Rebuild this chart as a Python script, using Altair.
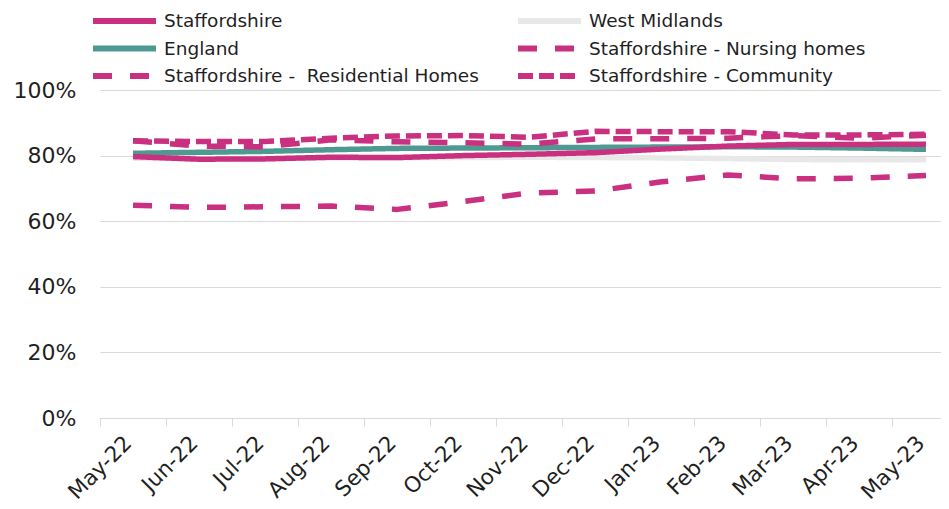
import altair as alt
import pandas as pd

months = ["May-22", "Jun-22", "Jul-22", "Aug-22", "Sep-22", "Oct-22", "Nov-22",
          "Dec-22", "Jan-23", "Feb-23", "Mar-23", "Apr-23", "May-23"]

staffordshire = [79.7, 78.9, 79.0, 79.5, 79.4, 80.0, 80.4, 80.9, 82.0, 82.9, 83.4, 83.4, 83.5]
west_midlands = [79.2, 79.0, 79.1, 79.3, 79.3, 79.4, 79.5, 79.4, 79.3, 79.1, 78.8, 78.7, 78.7]
england = [80.7, 81.0, 81.3, 81.8, 82.2, 82.3, 82.4, 82.5, 82.6, 82.7, 82.6, 82.3, 81.9]
nursing = [64.9, 64.2, 64.4, 64.6, 63.6, 66.0, 68.6, 69.2, 72.0, 74.1, 72.9, 73.1, 73.9]
residential = [84.5, 82.9, 82.7, 84.8, 84.2, 83.9, 83.5, 85.1, 85.1, 85.3, 86.1, 85.3, 86.2]
community = [84.5, 84.3, 84.3, 85.3, 86.0, 86.1, 85.6, 87.4, 87.3, 87.3, 86.3, 86.3, 86.5]

series_names = [
    "Staffordshire",
    "West Midlands",
    "England",
    "Staffordshire - Nursing homes",
    "Staffordshire - \u00a0Residential Homes",
    "Staffordshire - Community",
]
series_values = [staffordshire, west_midlands, england, nursing, residential, community]
series_colors = ["#c9307f", "#e8e8e8", "#4e9a92", "#c9307f", "#c9307f", "#c9307f"]
series_dash = [[1, 0], [1, 0], [1, 0], [19, 18], [19, 18], [15, 6]]
draw_order = [1, 2, 0, 3, 4, 5]

rows = []
for i in draw_order:
    for m, v in zip(months, series_values[i]):
        rows.append({"Month": m, "Value": v, "Series": series_names[i], "ord": draw_order.index(i)})
df = pd.DataFrame(rows)

FONT = "DejaVu Sans"
TXT = "#1f1f1f"

legend = alt.Legend(
    title=None,
    orient="none",
    direction="horizontal",
    legendX=-10,
    legendY=-81,
    columns=2,
    columnPadding=36,
    rowPadding=3.5,
    symbolType="stroke",
    symbolSize=3969,
    symbolStrokeWidth=6,
    clipHeight=24,
    labelFontSize=18.5,
    labelFont=FONT,
    labelColor=TXT,
    labelOffset=5,
    labelLimit=500,
    padding=0,
)

chart = alt.Chart(df).mark_line(strokeWidth=5.5, strokeCap="butt", strokeJoin="round").encode(
    x=alt.X("Month:N", sort=months,
            scale=alt.Scale(type="band", range=[0, 859], paddingInner=0, paddingOuter=0),
            axis=alt.Axis(title=None, labelAngle=-45, labelFontSize=21.5, labelFont=FONT,
                          labelColor=TXT, tickColor="#d9d9d9", tickSize=8, domainColor="#d9d9d9",
                          grid=False, bandPosition=0, labelPadding=18,
                          labelAlign="right", labelBaseline="alphabetic")),
    y=alt.Y("Value:Q", scale=alt.Scale(domain=[0, 100]),
            axis=alt.Axis(title=None, values=[0, 20, 40, 60, 80, 100], labelExpr="datum.value + '%'",
                          labelFontSize=22, labelFont=FONT, labelColor=TXT, ticks=False, tickSize=0,
                          domain=False, gridColor="#d9d9d9", labelPadding=24)),
    color=alt.Color("Series:N", scale=alt.Scale(domain=series_names, range=series_colors), legend=legend),
    strokeDash=alt.StrokeDash("Series:N", scale=alt.Scale(domain=series_names, range=series_dash), legend=legend),
    order=alt.Order("ord:Q"),
).properties(
    width=841,
    height=328,
    autosize=alt.AutoSizeParams(type="none"),
    padding={"left": 92, "top": 82, "right": 0, "bottom": 90},
).configure_view(stroke=None)

chart.save("out.html", embed_options={"renderer": "svg", "actions": False})
